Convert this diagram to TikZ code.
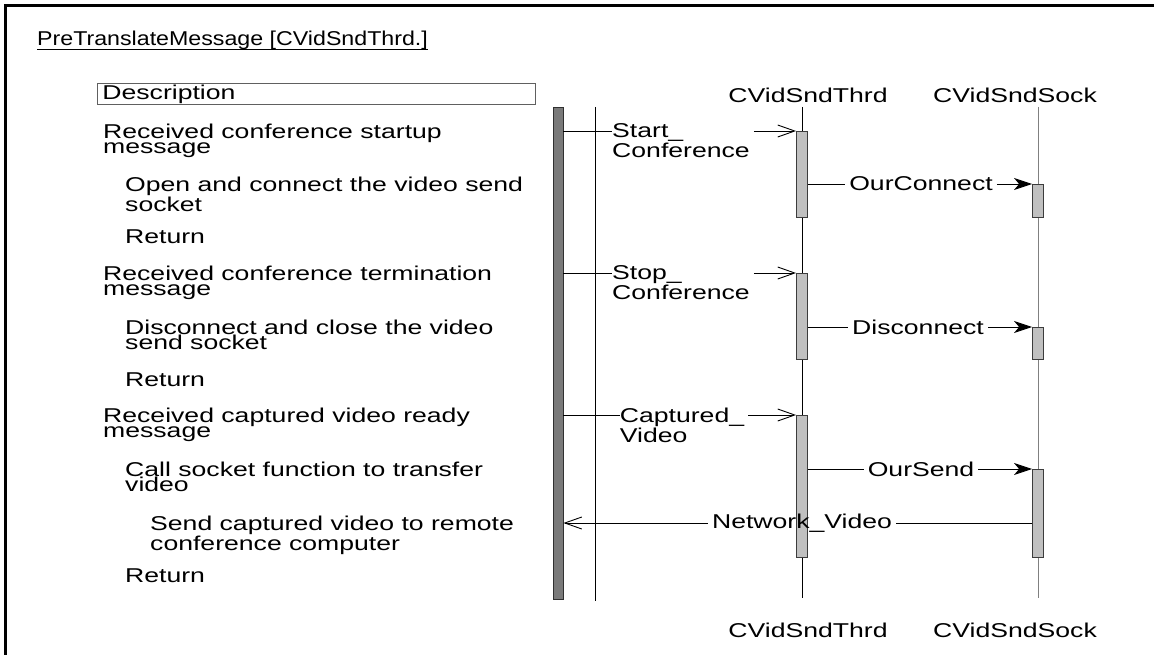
\documentclass[tikz,border=0pt]{standalone}
\usepackage{fontspec}
\setmainfont[FakeStretch=1.33]{Liberation Sans}
\newfontfamily\titlefont[FakeStretch=1.16]{Liberation Sans}
\usetikzlibrary{arrows.meta}
\definecolor{actorfill}{HTML}{7A7A7A}
\definecolor{actorline}{HTML}{303030}
\definecolor{barfill}{HTML}{C0C0C0}
\definecolor{barline}{HTML}{3C3C3C}
\definecolor{descline}{HTML}{606060}
\definecolor{sockline}{HTML}{808080}
\begin{document}
\begin{tikzpicture}[x=1pt,y=-1pt,
  font=\fontsize{20}{15.5}\selectfont,
  txt/.style={anchor=north west, inner sep=0pt, align=left},
  lbl/.style={anchor=north, inner sep=0pt, align=left},
  mlbl/.style={inner xsep=4pt, inner ysep=0pt},
  head/.style={anchor=center, inner sep=0pt},
  actbar/.style={draw=barline, fill=barfill, line width=0.9pt, minimum width=11pt, anchor=north, inner sep=0pt},
  msg/.style={line width=0.9pt},
  openhead/.style={-{Straight Barb[length=17pt,width=12pt]}},
  callhead/.style={-{Stealth[length=18pt,width=12pt,inset=5pt]}}]
\useasboundingbox (0,0) rectangle (1154,655);

% outer frame
\draw[line width=2.4pt] (5.5,655) -- (5.5,5.5) -- (1154,5.5);

% title
\node[anchor=base west, inner sep=0pt, font=\titlefont\fontsize{20}{20}\selectfont] (title) at (37,46) {PreTranslateMessage [CVidSndThrd.]};
\draw[line width=0.9pt] ([yshift=-3.5pt]title.base west) -- ([yshift=-3.5pt]title.base east);

% description column
\node[draw=descline, line width=0.9pt, anchor=north west, text width=428pt, inner xsep=5pt, inner ysep=1pt, minimum height=21pt] (desc) at (97,83) {Description};
\node[txt] (d1) at (103,123.8) {Received conference startup\\message};
\node[txt] (d2) at (125,176.8) {Open and connect the video send\\socket};
\node[txt] (d3) at (125,229.8) {Return};
\node[txt] (d4) at (103,265.8) {Received conference termination\\message};
\node[txt] (d5) at (125,319.8) {Disconnect and close the video\\send socket};
\node[txt] (d6) at (125,372.8) {Return};
\node[txt] (d7) at (103,407.8) {Received captured video ready\\message};
\node[txt] (d8) at (125,461.8) {Call socket function to transfer\\video};
\node[txt] (d9) at (150,515.8) {Send captured video to remote\\conference computer};
\node[txt] (d10) at (125,568.8) {Return};

% object headings
\node[head] (thrdTop) at (808,95) {CVidSndThrd};
\node[head] (sockTop) at (1015,95) {CVidSndSock};
\node[head] (thrdBot) at (808,630) {CVidSndThrd};
\node[head] (sockBot) at (1015,630) {CVidSndSock};

% lifelines
\coordinate (sepA) at (595,107);
\coordinate (sepB) at (595,601);
\coordinate (thrdA) at (802,107);
\coordinate (thrdB) at (802,598);
\coordinate (sockA) at (1038,107);
\coordinate (sockB) at (1038,598);
\draw[line width=0.9pt] (sepA) -- (sepB);
\draw[line width=0.9pt] (thrdA) -- (thrdB);
\draw[line width=0.9pt, sockline] (sockA) -- (sockB);

% activation bars
\node[draw=actorline, fill=actorfill, line width=0.9pt, minimum width=10pt, minimum height=492pt, anchor=north, inner sep=0pt] (actor) at (558,107) {};
\node[actbar, minimum height=86pt] (t1) at (802,131) {};
\node[actbar, minimum height=86pt] (t2) at (802,273) {};
\node[actbar, minimum height=142pt] (t3) at (802,415) {};
\node[actbar, minimum height=33pt] (s1) at (1038,184) {};
\node[actbar, minimum height=32pt] (s2) at (1038,327) {};
\node[actbar, minimum height=88pt] (s3) at (1038,469) {};

% Start_Conference
\node[lbl] (l1) at (681,123.8) {Start\_\\Conference};
\draw[msg] (actor.east |- t1.north) -- (l1.west |- t1.north);
\draw[msg, openhead] ([xshift=4pt]l1.east |- t1.north) -- (t1.north west);

% OurConnect
\node[mlbl] (l2) at (921,184) {OurConnect};
\draw[msg] (t1.east |- s1.north) -- (l2.west);
\draw[msg, callhead] (l2.east) -- (s1.north west);

% Stop_Conference
\node[lbl] (l3) at (681,265.8) {Stop\_\\Conference};
\draw[msg] (actor.east |- t2.north) -- (l3.west |- t2.north);
\draw[msg, openhead] ([xshift=4pt]l3.east |- t2.north) -- (t2.north west);

% Disconnect
\node[mlbl] (l4) at (918,327) {Disconnect};
\draw[msg] (t2.east |- s2.north) -- (l4.west);
\draw[msg, callhead] (l4.east) -- (s2.north west);

% Captured_Video
\node[lbl] (l5) at (682,407.8) {Captured\_\\Video};
\draw[msg] (actor.east |- t3.north) -- (l5.west |- t3.north);
\draw[msg, openhead] ([xshift=4pt]l5.east |- t3.north) -- (t3.north west);

% OurSend
\node[mlbl] (l6) at (921,469) {OurSend};
\draw[msg] (t3.east |- s3.north) -- (l6.west);
\draw[msg, callhead] (l6.east) -- (s3.north west);

% Network_Video
\node[mlbl] (l7) at (802,523) {Network\_Video};
\draw[msg] (s3.west |- l7.east) -- (l7.east);
\draw[msg, openhead] (l7.west) -- (actor.east |- l7.west);
\end{tikzpicture}
\end{document}
